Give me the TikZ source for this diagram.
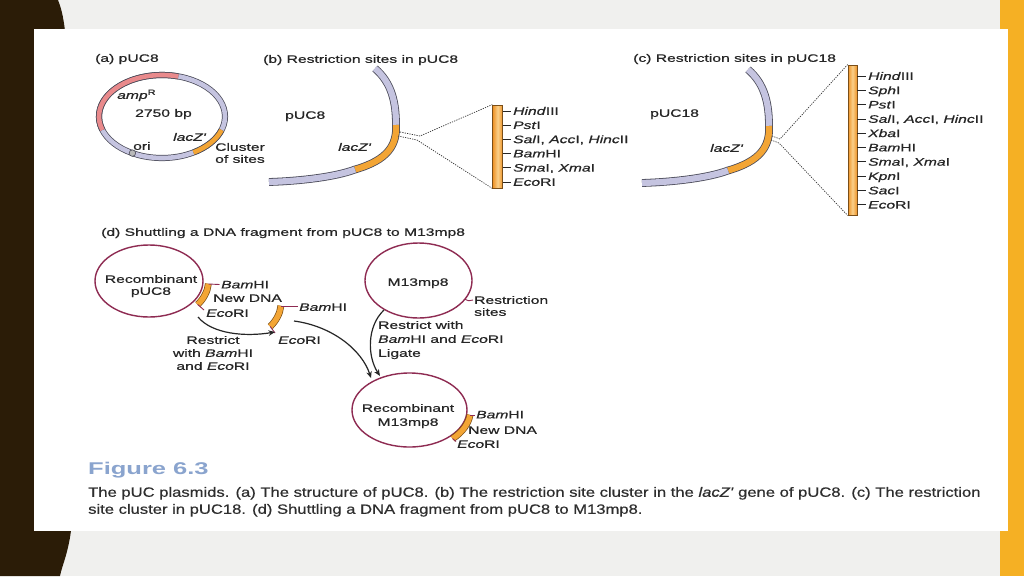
\documentclass[tikz,border=0pt]{standalone}
\usepackage{fontspec}
\setmainfont{Liberation Sans}
\newfontfamily\lab[FakeStretch=1.45,FakeBold=0.6]{Liberation Sans}
\newfontfamily\capf[FakeStretch=1.23,FakeBold=0.5]{Liberation Sans}
\newfontfamily\figf[FakeStretch=1.5]{Liberation Sans}
\usetikzlibrary{shapes.geometric,arrows.meta}
\definecolor{bgc}{HTML}{F0F0EE}
\definecolor{darkbr}{HTML}{2B1C07}
\definecolor{orstrip}{HTML}{F5B024}
\definecolor{lav}{HTML}{C5C4E0}
\definecolor{ringline}{HTML}{4A4A58}
\definecolor{ampc}{HTML}{E98A8C}
\definecolor{lacc}{HTML}{F3A535}
\definecolor{barlight}{HTML}{FAD08A}
\definecolor{bardark}{HTML}{EE9226}
\definecolor{barline}{HTML}{7A4E18}
\definecolor{maroon}{HTML}{8E2B52}
\definecolor{txt}{HTML}{262626}
\definecolor{captxt}{HTML}{2E2E2E}
\definecolor{figblue}{HTML}{8AA4CE}
\begin{document}
\begin{tikzpicture}[x=1pt,y=-1pt,
  lbl/.style={font=\lab\fontsize{10.8}{13}\selectfont, text=txt, inner sep=0pt, anchor=west, text height=7.7pt, text depth=0pt},
  clbl/.style={lbl, anchor=center},
  band/.style={line width=0.75pt, draw=ringline, double=lav, double distance=4.6pt},
  wband/.style={line width=0.8pt, draw=ringline, double=lav, double distance=6.2pt},
  fragband/.style={line width=0.7pt, draw=barline, double=lacc, double distance=5.4pt},
  barbox/.style={draw=barline, line width=0.8pt, left color=bardark, right color=bardark, middle color=barlight, inner sep=0pt},
  dots/.style={draw=gray!40!black, line width=0.7pt, dash pattern=on 1.2pt off 1.2pt},
  btick/.style={draw=gray!30!black, line width=0.7pt},
  mtick/.style={draw=maroon, line width=0.9pt},
  plasmid/.style={ellipse, draw=maroon, line width=1.4pt, fill=white, inner sep=0pt},
  arr/.style={draw=black!85, line width=1.2pt, -{Stealth[length=6.5pt,width=5.5pt]}},
  capstyle/.style={font=\capf\fontsize{13.5}{16}\selectfont, text=captxt, anchor=west, inner sep=0pt, text height=9.6pt, text depth=0pt}
]
\useasboundingbox (0,0) rectangle (1024,576);
% background
\fill[bgc] (0,0) rectangle (1024,576);
\fill[darkbr] (0,0) -- (58,0) .. controls (62,10) and (64,20) .. (66,40) -- (72,520) .. controls (70,550) and (62,565) .. (60,576) -- (0,576) -- cycle;
\fill[orstrip] (1000,0) rectangle (1024,576);
\fill[white] (34,29) rectangle (1008,531);

% ---------- (a)
\node[lbl] (ta) at (95,58) {(a) pUC8};
\coordinate (ca) at (162,116.5);
\draw[band] (ca) ellipse[x radius=63, y radius=41.5];
\draw[band, double=ampc] (ca) ++(161:63 and 41.5) arc[start angle=161, end angle=285, x radius=63, y radius=41.5];
\draw[band, double=lacc] (ca) ++(19:63 and 41.5) arc[start angle=19, end angle=60, x radius=63, y radius=41.5];
\node[circle, draw=ringline, fill=gray!55, line width=0.6pt, minimum size=6.5pt, inner sep=0pt] (ori) at (132.4,153.1) {};
\node[lbl] (ampl) at (117,95) {\textit{amp}\textsuperscript{R}};
\node[lbl] (bp) at (135,113) {2750 bp};
\node[lbl] (lacza) at (173,137) {\textit{lacZ'}};
\node[lbl] (oril) at (133,146) {ori};
\node[lbl] (clus) at (215,147) {Cluster};
\node[lbl] (ofs) at (215,159) {of sites};

% ---------- (b)
\node[lbl] (tb) at (263,59) {(b) Restriction sites in pUC8};
\draw[wband] (375,68.5) .. controls (392,83) and (396,103) .. (396,125);
\draw[wband, double=lacc] (396,125) .. controls (397,145) and (388,160) .. (355,169.5);
\draw[wband] (355,169.5) .. controls (335,177) and (300,181) .. (269,182);
\node[lbl] (pb) at (285,115) {pUC8};
\node[lbl] (lb) at (338,147) {\textit{lacZ'}};
\node[barbox, minimum width=10pt, minimum height=83pt] (barb) at (497.7,146.5) {};
\draw[dots] (400,132) -- (420,136) -- (barb.north west);
\draw[dots] (398,136) -- (417,140) -- (barb.south west);
\foreach \t [count=\i] in {{\textit{Hind}III},{\textit{Pst}I},{\textit{Sal}I, \textit{Acc}I, \textit{Hinc}II},{\textit{Bam}HI},{\textit{Sma}I, \textit{Xma}I},{\textit{Eco}RI}}{
  \node[lbl] (bl\i) at (513,{110.9+14.2*(\i-1)}) {\t};
  \draw[btick] (barb.east |- bl\i.west) -- ([xshift=-2pt]bl\i.west);
}

% ---------- (c)
\node[lbl] (tc) at (633,58) {(c) Restriction sites in pUC18};
\draw[wband] (748,69.5) .. controls (765,84) and (769,104) .. (769,126);
\draw[wband, double=lacc] (769,126) .. controls (770,146) and (761,161) .. (728,170.5);
\draw[wband] (728,170.5) .. controls (708,178) and (673,182) .. (642,183);
\node[lbl] (pc) at (650,113) {pUC18};
\node[lbl] (lc) at (710,148) {\textit{lacZ'}};
\node[barbox, minimum width=9pt, minimum height=150pt] (barc) at (852.5,140) {};
\draw[dots] (772,136) -- (780,139) -- (barc.north west);
\draw[dots] (771,140) -- (779,143) -- (barc.south west);
\foreach \t [count=\i] in {{\textit{Hind}III},{\textit{Sph}I},{\textit{Pst}I},{\textit{Sal}I, \textit{Acc}I, \textit{Hinc}II},{\textit{Xba}I},{\textit{Bam}HI},{\textit{Sma}I, \textit{Xma}I},{\textit{Kpn}I},{\textit{Sac}I},{\textit{Eco}RI}}{
  \node[lbl] (cl\i) at (868,{76+14.3*(\i-1)}) {\t};
  \draw[btick] (barc.east |- cl\i.west) -- ([xshift=-2pt]cl\i.west);
}

% ---------- (d)
\node[lbl] (td) at (101,232) {(d) Shuttling a DNA fragment from pUC8 to M13mp8};
% recombinant pUC8
\node[plasmid, minimum width=108pt, minimum height=72pt] (rp) at (149,281) {};
\node[clbl] (rpt1) at (151,279) {Recombinant};
\node[clbl] (rpt2) at (151,291) {pUC8};
\draw[fragband] (rp.center) ++(4:59.5 and 41) arc[start angle=4, end angle=35, x radius=59.5, y radius=41];
\coordinate (rpb) at (208.4,284);
\coordinate (rpe) at (197.7,304.5);
\node[lbl] (rpbam) at (221,284.5) {\textit{Bam}HI};
\node[lbl] (rpnew) at (213,298) {New DNA};
\node[lbl] (rpeco) at (206,313) {\textit{Eco}RI};
\draw[mtick] (rpb) -- ([xshift=-1.5pt]rpbam.west);
\draw[mtick] (rpe) -- (204,310);
% free fragment
\coordinate (ffc) at (221.5,303);
\draw[fragband] (ffc) ++(4:59.5 and 41) arc[start angle=4, end angle=35, x radius=59.5, y radius=41];
\coordinate (ffb) at (280.9,306);
\coordinate (ffe) at (270.2,326.5);
\node[lbl] (ffbam) at (299,307) {\textit{Bam}HI};
\node[lbl] (ffeco) at (278,340) {\textit{Eco}RI};
\draw[mtick] (ffb) -- ([xshift=-1.5pt]ffbam.west |- ffb);
\draw[mtick] (ffe) -- (275,333);
% restrict text
\node[clbl] (rs1) at (213,340) {Restrict};
\node[clbl] (rs2) at (213,353) {with \textit{Bam}HI};
\node[clbl] (rs3) at (213,366) {and \textit{Eco}RI};
% M13mp8
\node[plasmid, minimum width=107pt, minimum height=75pt] (m13) at (418.5,280.5) {};
\node[clbl] (m13t) at (418,282) {M13mp8};
\coordinate (m13s) at (464.8,299.2);
\node[lbl] (rsite1) at (474,300) {Restriction};
\node[lbl] (rsite2) at (474,312) {sites};
\draw[mtick] (m13s) .. controls (468,301) .. ([xshift=-1pt]rsite1.west);
\node[lbl] (rw1) at (378,325) {Restrict with};
\node[lbl] (rw2) at (378,339) {\textit{Bam}HI and \textit{Eco}RI};
\node[lbl] (rw3) at (378,353) {Ligate};
% recombinant M13mp8
\node[plasmid, minimum width=115pt, minimum height=74pt] (rm) at (409.5,410) {};
\node[clbl] (rmt1) at (408,408) {Recombinant};
\node[clbl] (rmt2) at (408,422) {M13mp8};
\draw[fragband] (rm.center) ++(7:61 and 40.5) arc[start angle=7, end angle=45, x radius=61, y radius=40.5];
\coordinate (rmb) at (470,415);
\coordinate (rme) at (452.6,438.6);
\node[lbl] (rmbam) at (476,414.5) {\textit{Bam}HI};
\node[lbl] (rmnew) at (468,430) {New DNA};
\node[lbl] (rmeco) at (457,444) {\textit{Eco}RI};
\draw[mtick] (rmb) -- ([xshift=-1.5pt]rmbam.west |- rmb);
\draw[mtick] (rme) -- (456,441.5);
% arrows
\coordinate (a1s) at (198,317);
\coordinate (a1e) at (275,332);
\coordinate (a2s) at (294,321);
\coordinate (a2e) at (371,378);
\coordinate (a3s) at (384,310);
\coordinate (a3e) at (380,376);
\draw[arr] (a1s) .. controls (212,334) and (245,337) .. (a1e);
\draw[arr] (a2s) .. controls (332,326) and (362,350) .. (a2e);
\draw[arr] (a3s) .. controls (367,326) and (367,356) .. (a3e);

% ---------- caption
\node[font=\figf\bfseries\fontsize{17}{20}\selectfont, text=figblue, anchor=west, inner sep=0pt, text height=12pt, text depth=0pt] (fig) at (88,468) {Figure 6.3};
\node[capstyle] (cap1) at (88,492) {The pUC plasmids. (a) The structure of pUC8. (b) The restriction site cluster in the \textit{lacZ'} gene of pUC8. (c) The restriction};
\node[capstyle] (cap2) at (88,509) {site cluster in pUC18. (d) Shuttling a DNA fragment from pUC8 to M13mp8.};
\end{tikzpicture}
\end{document}
